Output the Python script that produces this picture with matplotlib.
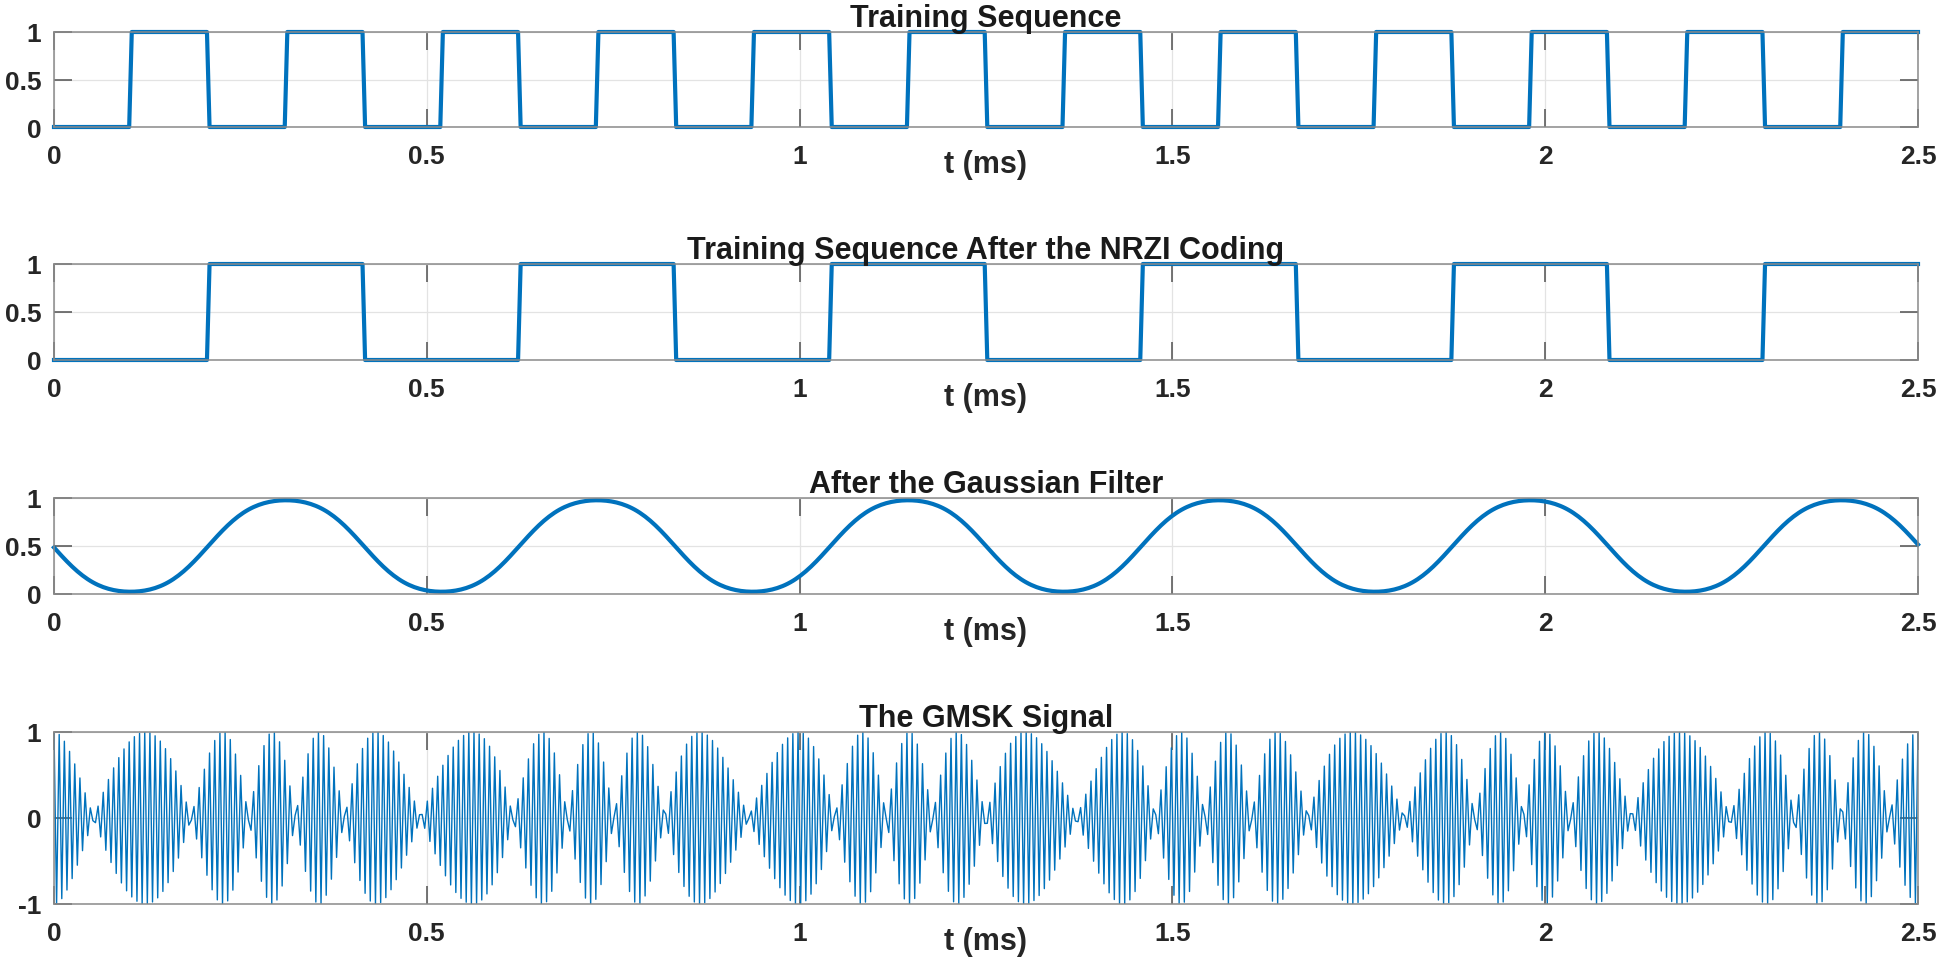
import numpy as np
import matplotlib
matplotlib.use("Agg")
import matplotlib.pyplot as plt

plt.rcParams['font.family'] = ['Liberation Sans', 'DejaVu Sans']
plt.rcParams['font.weight'] = 'bold'

# one value per bit
bits = [0, 1, 0, 1, 0, 1, 0, 1, 0, 1, 0, 1, 0, 1, 0, 1, 0, 1, 0, 1, 0, 1, 0, 1]
nrzi = [0, 0, 1, 1, 0, 0, 1, 1, 0, 0, 1, 1, 0, 0, 1, 1, 0, 0, 1, 1, 0, 0, 1, 1]

bit_rate = 9600.0   # 24 bits in 2.5 ms
sps = 30            # samples per bit
bt = 0.3            # gaussian filter BT
h_mod = 0.5         # modulation index
fc = 149600.0       # carrier (Hz)

xticks = [0, 0.5, 1, 1.5, 2, 2.5]
xticklabels = ['0', '0.5', '1', '1.5', '2', '2.5']
yticks_unit = [0, 0.5, 1]
yticklabels_unit = ['0', '0.5', '1']
yticks_sig = [-1, 0, 1]
yticklabels_sig = ['-1', '0', '1']
titles = ['Training Sequence', 'Training Sequence After the NRZI Coding',
          'After the Gaussian Filter', 'The GMSK Signal']

fs = bit_rate * sps
n = len(bits) * sps
t = np.linspace(0, len(bits) / bit_rate, n)
t_ms = t * 1e3

seq = np.repeat(bits, sps).astype(float)
nrz = np.repeat(nrzi, sps).astype(float)

# gaussian filter (circular, like an fft based filter)
sigma = np.sqrt(np.log(2)) / (2 * np.pi * bt) * sps
k = np.arange(-3 * sps, 3 * sps + 1)
gp = np.exp(-k**2 / (2 * sigma**2))
gp /= gp.sum()
filt = np.convolve(np.tile(nrz, 3), gp, mode='same')[n:2 * n]

phase = np.pi * h_mod * np.cumsum(2 * filt - 1) / sps
gmsk = np.cos(2 * np.pi * fc * t + phase)

W, H = 1946, 962
blue = '#0072BD'
fig = plt.figure(figsize=(W / 100, H / 100), dpi=100)
left, right = 54, 1918
boxes = [(33, 128), (265, 361), (499, 595), (733, 905)]
series = [seq, nrz, filt, gmsk]
widths = [3.0, 3.0, 3.0, 1.0]

for i in range(4):
    top, bot = boxes[i]
    ax = fig.add_axes([left / W, 1 - bot / H, (right - left) / W, (bot - top) / H])
    ax.plot(t_ms, series[i], color=blue, lw=widths[i], clip_on=(i == 3))
    ax.set_xlim(0, 2.5)
    ax.set_xticks(xticks)
    ax.set_xticklabels(xticklabels)
    if i < 3:
        ax.set_ylim(0, 1)
        ax.set_yticks(yticks_unit)
        ax.set_yticklabels(yticklabels_unit)
    else:
        ax.set_ylim(-1, 1)
        ax.set_yticks(yticks_sig)
        ax.set_yticklabels(yticklabels_sig)
    ax.grid(True, color='#e3e3e3', lw=0.9)
    ax.set_axisbelow(True)
    for s in ax.spines.values():
        s.set_color('#8a8a8a')
        s.set_linewidth(1.1)
    ax.tick_params(direction='in', length=13, width=1.1, color='#505050',
                   top=True, right=True, labelsize=19, labelcolor='#262626')
    ax.tick_params(axis='x', pad=12)
    ax.tick_params(axis='y', pad=9)
    ax.set_title(titles[i], fontsize=22, fontweight='bold', color='#1a1a1a', pad=4)
    ax.set_xlabel('t (ms)', fontsize=22, fontweight='bold', color='#262626')
    ax.xaxis.set_label_coords(0.5, -22 / (bot - top))

fig.savefig('out.png', dpi=100)
